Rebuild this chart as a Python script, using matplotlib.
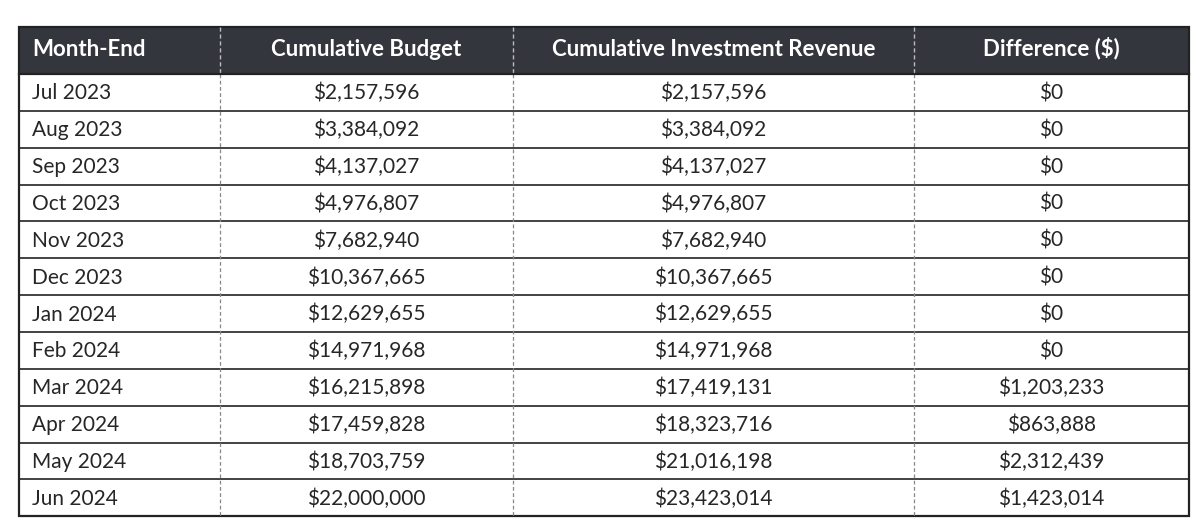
import matplotlib.pyplot as plt

months = ["Jul 2023", "Aug 2023", "Sep 2023", "Oct 2023", "Nov 2023", "Dec 2023",
          "Jan 2024", "Feb 2024", "Mar 2024", "Apr 2024", "May 2024", "Jun 2024"]
budget = [2157596, 3384092, 4137027, 4976807, 7682940, 10367665,
          12629655, 14971968, 16215898, 17459828, 18703759, 22000000]
revenue = [2157596, 3384092, 4137027, 4976807, 7682940, 10367665,
           12629655, 14971968, 17419131, 18323716, 21016198, 23423014]
difference = [0, 0, 0, 0, 0, 0, 0, 0, 1203233, 863888, 2312439, 1423014]
headers = ["Month-End", "Cumulative Budget", "Cumulative Investment Revenue", "Difference ($)"]

plt.rcParams['font.family'] = ['Lato', 'DejaVu Sans']

fig = plt.figure(figsize=(12.04, 5.28), dpi=100)
ax = fig.add_axes([0, 0, 1, 1])
ax.set_xlim(0, 1204)
ax.set_ylim(528, 0)
ax.axis('off')

# table layout in pixels
left, right = 19, 1189
top, head_bot = 27, 74
row_h = 36.85
col_edges = [left, 220, 513, 914, right]
bottom = head_bot + row_h * len(months)

# header band
ax.add_patch(plt.Rectangle((left, top), right - left, head_bot - top,
                           facecolor='#34363d', edgecolor='none'))

fmt = lambda v: "${:,}".format(v)
rows = [[m, fmt(b), fmt(r), fmt(d)] for m, b, r, d in zip(months, budget, revenue, difference)]

head_y = (top + head_bot) / 2 + 5
for j, h in enumerate(headers):
    if j == 0:
        ax.text(col_edges[0] + 13, head_y, h, color='white', fontsize=16,
                fontweight='bold', ha='left', va='baseline')
    else:
        ax.text((col_edges[j] + col_edges[j + 1]) / 2, head_y, h, color='white',
                fontsize=16, fontweight='bold', ha='center', va='baseline')

for i, row in enumerate(rows):
    y = head_bot + row_h * (i + 0.5) + 7
    for j, val in enumerate(row):
        if j == 0:
            ax.text(col_edges[0] + 13, y, val, color='#262626', fontsize=15,
                    ha='left', va='baseline')
        else:
            ax.text((col_edges[j] + col_edges[j + 1]) / 2, y, val, color='#262626',
                    fontsize=15, ha='center', va='baseline')

# horizontal row lines
for i in range(1, len(months)):
    y = head_bot + row_h * i
    ax.plot([left, right], [y, y], color='#222222', linewidth=1.2)

# dashed column dividers
for x in col_edges[1:-1]:
    ax.plot([x, x], [top, head_bot], color='#bbbbbb', linewidth=1, linestyle=(0, (3, 2)))
    ax.plot([x, x], [head_bot, bottom], color='#888888', linewidth=0.9, linestyle=(0, (3, 2)))

# outer border
ax.add_patch(plt.Rectangle((left, top), right - left, bottom - top,
                           facecolor='none', edgecolor='#222222', linewidth=1.6))
ax.plot([left, right], [head_bot, head_bot], color='#222222', linewidth=1.6)

fig.savefig('out.png', dpi=100)
